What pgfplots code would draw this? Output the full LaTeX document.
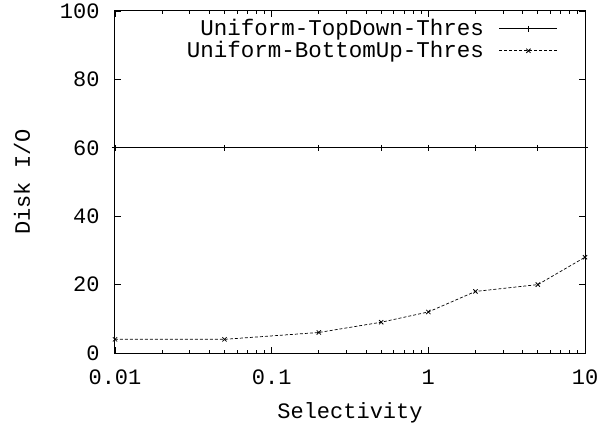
\documentclass[border=0pt]{standalone}
\usepackage{fontspec}
\setmainfont{Liberation Mono}
\usepackage{pgfplots}
\pgfplotsset{compat=1.18}

\begin{document}
\fontsize{22}{24}\selectfont
\begin{tikzpicture}
  \begin{axis}[
      name=ax,
      scale only axis,
      width=470pt, height=342pt,
      xmode=log,
      xmin=0.01, xmax=10,
      ymin=0, ymax=100,
      xtick={0.01,0.1,1,10},
      xticklabels={0.01,0.1,1,10},
      ytick={0,20,...,100},
      tick align=inside,
      major tick length=6pt,
      minor tick length=3pt,
      axis line style={line width=1pt},
      every tick/.style={black, line width=0.8pt},
      tick label style={font=\fontsize{22}{24}\selectfont},
      /pgf/number format/assume math mode=true,
      xticklabel style={yshift=-9pt},
      yticklabel style={xshift=-8pt},
      xlabel={Selectivity},
      ylabel={Disk I/O},
      label style={font=\fontsize{22}{24}\selectfont},
      xlabel style={yshift=-3pt},
      ylabel style={yshift=15pt},
      legend cell align=right,
      legend plot pos=right,
      legend style={draw=none, fill=none,
        at={(0.9426,0.972)}, anchor=north east,
        font=\fontsize{22.5}{24}\selectfont,
        row sep=2pt, column sep=15pt,
        inner sep=0pt,
        nodes={inner sep=0pt, text height=15pt, text depth=5pt}},
      legend image code/.code={
        \draw[mark repeat=2, mark phase=2, #1]
          plot coordinates {(0pt,2pt) (29pt,2pt) (58pt,2pt)};
      },
    ]

    \addplot[black, line width=0.8pt, mark=+, mark size=3pt,
      mark options={solid, line width=0.8pt}] coordinates {
      (0.01,60) (0.05,60) (0.2,60) (0.5,60) (1,60) (2,60) (5,60) (10,60)
    };
    \addlegendentry{Uniform-TopDown-Thres}

    \addplot[black, line width=0.7pt, dash pattern=on 3pt off 2pt,
      mark=x, mark size=3pt,
      mark options={solid, line width=0.8pt}] coordinates {
      (0.01,4) (0.05,4) (0.2,6) (0.5,9) (1,12) (2,18) (5,20) (10,28)
    };
    \addlegendentry{Uniform-BottomUp-Thres}

  \end{axis}
  \pgfresetboundingbox
  \path ([shift={(-115pt,-73pt)}]ax.south west)
    rectangle ([shift={(29pt,11pt)}]ax.north east);
\end{tikzpicture}
\end{document}
